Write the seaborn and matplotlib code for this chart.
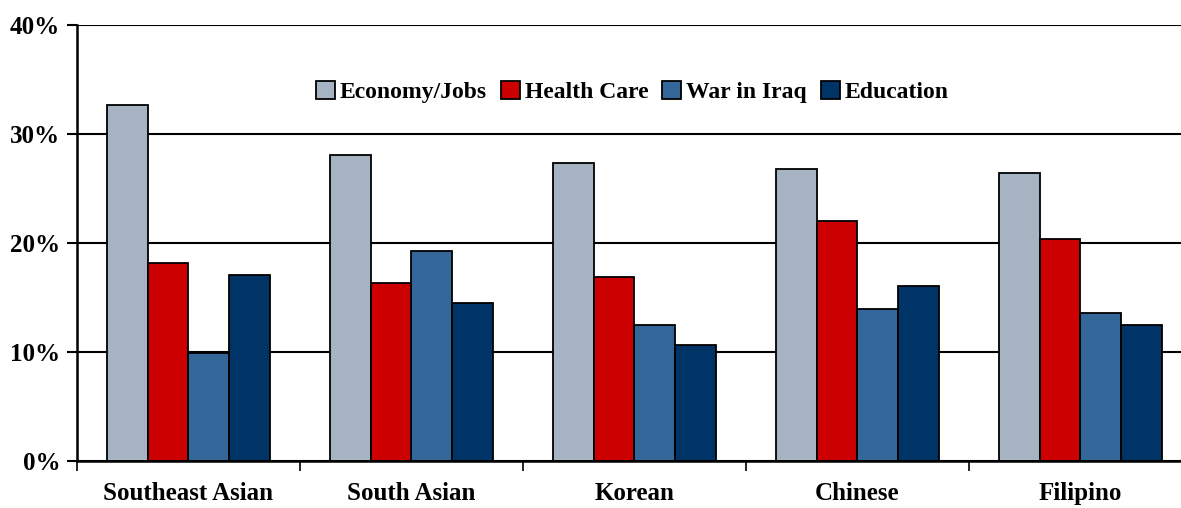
import matplotlib
matplotlib.use('Agg')
import matplotlib.pyplot as plt
import pandas as pd
import numpy as np
import seaborn as sns
from matplotlib.ticker import FuncFormatter, FixedLocator

groups = ['Southeast Asian', 'South Asian', 'Korean', 'Chinese', 'Filipino']
issues = ['Economy/Jobs', 'Health Care', 'War in Iraq', 'Education']
economy = [32.7, 28.1, 27.3, 26.8, 26.4]
health = [18.2, 16.3, 16.9, 22.0, 20.4]
war = [9.9, 19.3, 12.5, 13.9, 13.6]
education = [17.1, 14.5, 10.6, 16.1, 12.5]
colors = ['#A5B3C3', '#CC0000', '#336699', '#003366']

df = pd.DataFrame({'group': groups, 'Economy/Jobs': economy, 'Health Care': health,
                   'War in Iraq': war, 'Education': education})
df = df.melt(id_vars='group', var_name='issue', value_name='pct')

sns.set_style('white')
plt.rcParams['font.family'] = ['Liberation Serif', 'DejaVu Serif']
plt.rcParams['font.weight'] = 'bold'
plt.rcParams['text.color'] = 'black'
plt.rcParams['xtick.color'] = 'black'
plt.rcParams['ytick.color'] = 'black'

fig = plt.figure(figsize=(11.81, 5.08), dpi=100)
ax = fig.add_axes([0.0652, 0.0925, 0.9441, 0.8583])

sns.barplot(data=df, x='group', y='pct', hue='issue', hue_order=issues, order=groups,
            palette=colors, width=0.727, edgecolor='black', linewidth=1.3,
            saturation=1, ax=ax, errorbar=None)

ax.set_ylim(0, 40)
ax.set_xlim(-0.5, len(groups) - 0.5)
ax.set_yticks([0, 10, 20, 30, 40])
ax.yaxis.set_major_formatter(FuncFormatter(lambda v, p: f'{v:.0f}%'))
ax.set_axisbelow(True)
ax.grid(axis='y', color='black', linewidth=1.5)
ax.grid(axis='x', visible=False)

for s in ['top', 'right']:
    ax.spines[s].set_visible(False)
for s in ['left', 'bottom']:
    ax.spines[s].set_color('black')
    ax.spines[s].set_linewidth(1.8)

# group separators as minor ticks, labels at centres
ax.xaxis.set_minor_locator(FixedLocator(np.arange(-0.5, len(groups), 1.0)))
ax.tick_params(axis='x', which='major', bottom=True, length=0, pad=15, labelsize=18,
               labelcolor='black')
ax.tick_params(axis='x', which='minor', bottom=True, length=7, width=1.2,
               direction='out', color='black')
ax.tick_params(axis='y', left=True, length=7, width=1.5, direction='out', color='black',
               labelsize=18, pad=5, labelcolor='black')
for lab in ax.get_xticklabels() + ax.get_yticklabels():
    lab.set_fontweight('bold')

ax.set_xlabel('')
ax.set_ylabel('')

leg = ax.legend(loc='center', bbox_to_anchor=(0.498, 0.846), ncol=4, frameon=False,
                prop={'weight': 'bold', 'size': 17}, handlelength=0.8, handleheight=0.8,
                handletextpad=0.2, columnspacing=0.6)

fig.savefig('out.png', dpi=100)
